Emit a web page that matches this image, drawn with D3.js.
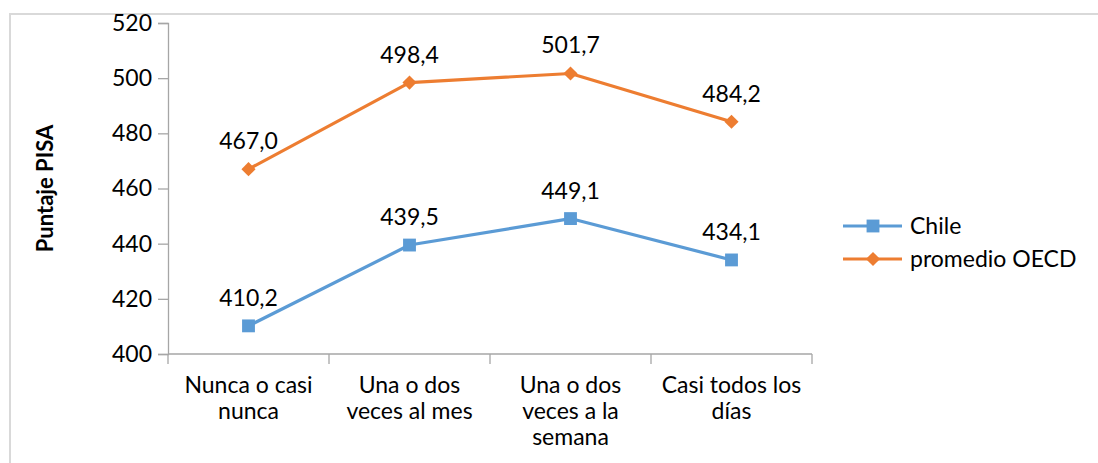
<!DOCTYPE html>
<html>
<head>
<meta charset="utf-8">
<script src="https://cdn.jsdelivr.net/npm/d3@7"></script>
<style>
  body { margin: 0; background: #fff; }
  text { font-family: Lato, Carlito, "Open Sans", sans-serif; fill: #000; }
</style>
</head>
<body>
<div id="chart"></div>
<script>
// categories (already split into lines as in the picture)
const categories = ["Nunca o casi nunca", "Una o dos veces al mes", "Una o dos veces a la semana", "Casi todos los días"];
const categoryLines = [
  ["Nunca o casi", "nunca"],
  ["Una o dos", "veces al mes"],
  ["Una o dos", "veces a la", "semana"],
  ["Casi todos los", "días"]
];
const chile = [410.2, 439.5, 449.1, 434.1];
const oecd = [467.0, 498.4, 501.7, 484.2];
const yTicks = [400, 420, 440, 460, 480, 500, 520];
const seriesNames = ["Chile", "promedio OECD"];

const W = 1098, H = 463;
const margin = {top: 23, right: 286, bottom: 109, left: 168};
const width = W - margin.left - margin.right,
  height = H - margin.top - margin.bottom;
const fs = 23;

const svg = d3.select("#chart").append("svg")
  .attr("width", W).attr("height", H);

// outer chart border
svg.append("rect")
  .attr("x", 10).attr("y", 14)
  .attr("width", W + 20).attr("height", H + 20)
  .attr("fill", "none").attr("stroke", "#d9d9d9").attr("stroke-width", 2);

const g = svg.append("g")
  .attr("transform", "translate(" + margin.left + "," + margin.top + ")");

const x = d3.scaleBand().domain(categories).range([0, width]);
const y = d3.scaleLinear().domain([400, 520]).range([height, 0]);

// y axis
const yAxis = g.append("g").call(d3.axisLeft(y).tickValues(yTicks).tickSize(10).tickPadding(6).tickFormat(d3.format("d")));
yAxis.select(".domain").attr("stroke", "#a6a6a6").attr("stroke-width", 1.3);
yAxis.selectAll(".tick line").attr("stroke", "#a6a6a6").attr("stroke-width", 1.3);
yAxis.selectAll(".tick text").attr("font-size", fs).attr("font-family", "Lato").attr("fill", "#000");

// x axis line + boundary ticks
g.append("line")
  .attr("x1", 0).attr("x2", width)
  .attr("y1", height).attr("y2", height)
  .attr("stroke", "#a6a6a6").attr("stroke-width", 1.3);
const bounds = categories.map(c => x(c)).concat([width]);
g.selectAll(".xtick").data(bounds).join("line")
  .attr("x1", d => d).attr("x2", d => d)
  .attr("y1", height).attr("y2", height + 10)
  .attr("stroke", "#a6a6a6").attr("stroke-width", 1.3);

// x labels
categories.forEach((c, i) => {
  const t = g.append("text")
    .attr("text-anchor", "middle")
    .attr("font-size", fs)
    .attr("x", x(c) + x.bandwidth() / 2)
    .attr("y", height + 39);
  categoryLines[i].forEach((line, j) => {
    t.append("tspan")
      .attr("x", x(c) + x.bandwidth() / 2)
      .attr("dy", j === 0 ? 0 : 26)
      .text(line);
  });
});

// y title
g.append("text")
  .attr("transform", "translate(" + (-115) + "," + (height / 2) + ") rotate(-90)")
  .attr("text-anchor", "middle")
  .attr("font-size", 22)
  .attr("font-weight", "bold")
  .text("Puntaje PISA");

const cx = c => x(c) + x.bandwidth() / 2;
const line = d3.line().x((d, i) => cx(categories[i])).y(d => y(d));
const fmt = v => d3.format(".1f")(v).replace(".", ",");

const series = [
  {name: seriesNames[0], values: chile, color: "#5b9bd5", size: 165, rot: 0},
  {name: seriesNames[1], values: oecd, color: "#ed7d31", size: 100, rot: 45}
];
const marker = s => d3.symbol().type(d3.symbolSquare).size(s.size)();

series.forEach(s => {
  g.append("path")
    .attr("d", line(s.values))
    .attr("fill", "none")
    .attr("stroke", s.color)
    .attr("stroke-width", 3.2)
    .attr("stroke-linejoin", "round");
  g.selectAll(null).data(s.values).join("path")
    .attr("d", marker(s))
    .attr("transform", (d, i) => "translate(" + cx(categories[i]) + "," + y(d) + ") rotate(" + s.rot + ")")
    .attr("fill", s.color);
  g.selectAll(null).data(s.values).join("text")
    .attr("x", (d, i) => cx(categories[i]))
    .attr("y", d => y(d) - 20)
    .attr("text-anchor", "middle")
    .attr("font-size", fs)
    .text(d => fmt(d));
});

// legend
const legend = svg.append("g").attr("transform", "translate(843,226)");
series.forEach((s, i) => {
  const lg = legend.append("g").attr("transform", "translate(0," + (i * 33) + ")");
  lg.append("line").attr("x1", 0).attr("x2", 59).attr("y1", 0).attr("y2", 0)
    .attr("stroke", s.color).attr("stroke-width", 3.2);
  lg.append("path")
    .attr("d", marker(s))
    .attr("transform", "translate(30,0) rotate(" + s.rot + ")")
    .attr("fill", s.color);
  lg.append("text").attr("x", 67).attr("y", 8)
    .attr("font-size", fs).text(s.name);
});
</script>
</body>
</html>
